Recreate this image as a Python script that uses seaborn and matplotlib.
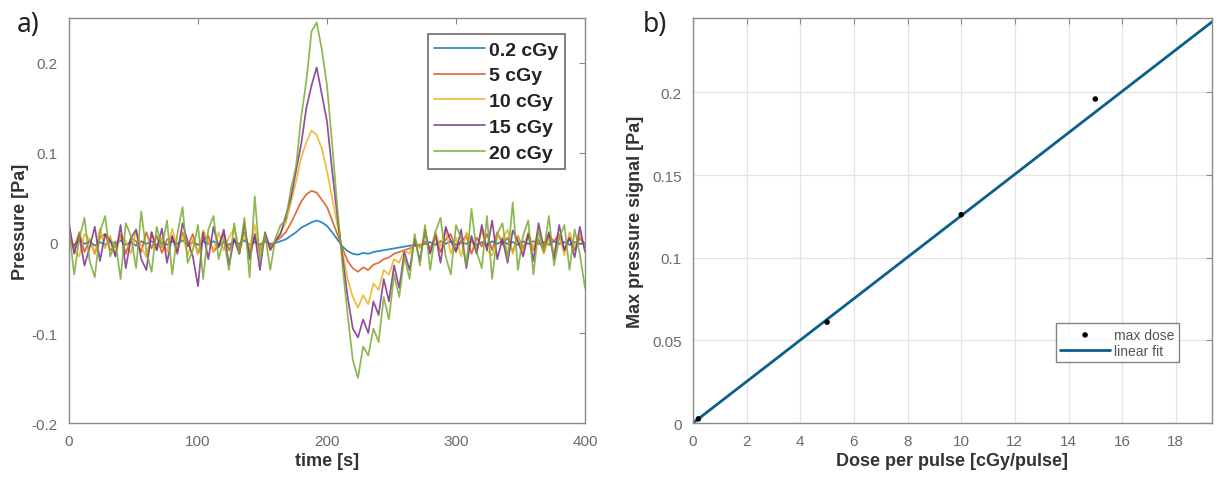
import numpy as np
import pandas as pd
import matplotlib
matplotlib.use("Agg")
import matplotlib.pyplot as plt
import seaborn as sns

# ---- panel a: pressure traces, one sample every 4 s from 0 to 400 s ----
dose_labels = ["0.2 cGy", "5 cGy", "10 cGy", "15 cGy", "20 cGy"]

p_02 = [0.002, -0.002, 0.003, -0.001, 0.002, -0.003, 0.001, -0.002, 0.002, -0.001,
        0.003, -0.002, 0.001, -0.003, 0.002, -0.001, 0.002, -0.002, 0.001, -0.002,
        0.002, -0.001, 0.003, -0.002, 0.001, -0.002, 0.002, -0.001, 0.002, -0.003,
        0.001, -0.002, 0.002, -0.001, 0.003, -0.002, 0.001, -0.002, 0.002, -0.001,
        0.000, 0.002, 0.004, 0.008, 0.012, 0.017, 0.020, 0.023, 0.025, 0.023,
        0.019, 0.012, 0.004, -0.004, -0.009, -0.012, -0.013, -0.011, -0.012, -0.010,
        -0.009, -0.008, -0.007, -0.006, -0.005, -0.004, -0.003, -0.002, -0.002, -0.001,
        0.001, -0.002, 0.002, -0.001, 0.002, -0.002, 0.001, -0.001, 0.002, -0.002,
        0.001, -0.002, 0.002, -0.001, 0.002, -0.001, 0.001, -0.002, 0.002, -0.001,
        0.002, -0.001, 0.001, -0.002, 0.002, -0.001, 0.001, -0.002, 0.001, -0.001, 0.000]

p_5 = [0.008, -0.006, 0.012, -0.010, 0.004, -0.012, 0.006, 0.010, -0.008, -0.004,
       0.009, -0.012, 0.006, 0.002, -0.010, 0.012, -0.006, 0.008, -0.011, 0.004,
       0.006, -0.008, 0.012, -0.004, 0.010, -0.012, 0.003, 0.008, -0.010, -0.002,
       0.010, -0.008, 0.004, -0.006, 0.012, -0.010, 0.006, -0.008, 0.008, -0.004,
       0.002, 0.006, 0.012, 0.022, 0.034, 0.046, 0.054, 0.058, 0.056, 0.048,
       0.040, 0.025, 0.010, -0.006, -0.020, -0.028, -0.032, -0.027, -0.030, -0.024,
       -0.022, -0.018, -0.016, -0.012, -0.010, -0.008, -0.006, -0.003, -0.004, 0.002,
       -0.006, 0.008, -0.010, 0.004, 0.010, -0.008, 0.002, 0.008, -0.012, 0.006,
       -0.004, 0.010, -0.008, 0.012, -0.002, 0.006, -0.010, 0.008, -0.006, 0.010,
       -0.008, 0.004, -0.010, 0.008, 0.002, 0.010, -0.008, 0.006, -0.008, 0.006, -0.004]

p_10 = [0.012, -0.008, -0.015, 0.010, 0.004, -0.012, 0.016, -0.006, 0.008, -0.014,
        0.010, 0.002, -0.012, 0.014, -0.004, -0.016, 0.012, -0.008, 0.006, -0.010,
        0.016, -0.006, 0.010, -0.014, 0.004, -0.012, 0.014, 0.002, -0.010, 0.012,
        -0.008, 0.006, 0.016, -0.012, 0.010, -0.006, 0.020, -0.012, 0.008, -0.006,
        0.003, 0.012, 0.022, 0.045, 0.068, 0.095, 0.112, 0.125, 0.120, 0.105,
        0.080, 0.050, 0.020, -0.010, -0.040, -0.060, -0.072, -0.058, -0.068, -0.045,
        -0.052, -0.030, -0.035, -0.018, -0.022, -0.008, -0.012, 0.004, -0.006, 0.008,
        -0.010, 0.012, -0.004, 0.015, -0.012, 0.006, -0.015, 0.012, 0.002, -0.010,
        0.014, -0.008, -0.014, 0.010, 0.004, 0.015, -0.012, 0.008, -0.010, 0.012,
        -0.006, 0.015, -0.012, 0.004, -0.010, 0.010, -0.014, 0.012, -0.004, 0.010, -0.005]

p_15 = [0.022, -0.012, 0.008, -0.025, -0.005, 0.018, -0.020, 0.010, 0.003, -0.015,
        0.020, -0.028, 0.005, 0.015, -0.018, -0.030, 0.012, -0.008, 0.016, -0.022,
        0.008, -0.012, 0.022, 0.002, -0.015, -0.048, 0.012, -0.018, 0.018, -0.005,
        0.015, -0.025, 0.005, -0.012, 0.022, -0.018, 0.010, -0.030, 0.012, -0.008,
        0.002, 0.010, 0.030, 0.050, 0.080, 0.110, 0.150, 0.175, 0.195, 0.165,
        0.135, 0.080, 0.030, -0.015, -0.060, -0.095, -0.105, -0.085, -0.100, -0.065,
        -0.080, -0.040, -0.065, -0.025, -0.050, -0.010, -0.030, 0.005, -0.020, 0.015,
        -0.012, 0.010, -0.022, 0.018, 0.002, -0.010, 0.015, -0.028, 0.008, -0.012,
        0.020, -0.008, 0.025, -0.018, 0.005, -0.022, 0.014, 0.002, -0.015, 0.010,
        -0.020, 0.022, -0.005, 0.012, -0.018, 0.020, -0.008, 0.006, -0.016, 0.018, -0.010]

p_20 = [0.015, -0.035, 0.005, 0.028, -0.020, -0.038, 0.012, 0.030, -0.015, 0.002,
        -0.040, 0.022, 0.008, -0.028, 0.035, -0.010, -0.032, 0.018, -0.005, 0.025,
        -0.035, 0.010, 0.040, -0.022, -0.008, 0.020, -0.040, 0.015, 0.030, -0.018,
        0.005, -0.030, 0.022, -0.012, 0.028, -0.038, 0.052, -0.020, 0.010, -0.030,
        0.005, 0.020, 0.025, 0.060, 0.085, 0.140, 0.180, 0.235, 0.245, 0.215,
        0.175, 0.110, 0.040, -0.025, -0.080, -0.130, -0.150, -0.115, -0.125, -0.095,
        -0.110, -0.060, -0.085, -0.035, -0.060, -0.015, -0.040, 0.010, -0.025, 0.020,
        -0.030, 0.012, 0.028, -0.015, -0.035, 0.020, 0.005, -0.025, 0.038, -0.010,
        -0.028, 0.030, -0.040, 0.010, 0.022, -0.018, 0.045, -0.030, 0.008, 0.025,
        -0.035, 0.015, -0.010, 0.030, -0.025, 0.005, 0.020, -0.030, 0.015, -0.012, -0.050]

traces = [p_02, p_5, p_10, p_15, p_20]

# ---- panel b: peak pressure versus dose per pulse ----
dose_per_pulse = [0.2, 5, 10, 15, 20]
max_pressure = [0.0025, 0.061, 0.126, 0.196, 0.245]

# MATLAB default line colours
trace_colors = ["#0072BD", "#D95319", "#EDB120", "#7E2F8E", "#77AC30"]

rows = []
for label, vals in zip(dose_labels, traces):
    t = np.linspace(0, 400, len(vals))
    rows.append(pd.DataFrame({"time": t, "pressure": vals, "dose": label}))
df_a = pd.concat(rows, ignore_index=True)

df_b = pd.DataFrame({"dose": dose_per_pulse, "pmax": max_pressure})
x_arr = np.array(dose_per_pulse)
y_arr = np.array(max_pressure)
slope = np.sum(x_arr * y_arr) / np.sum(x_arr ** 2)  # least squares through the origin
fit_x = np.array([0.0, 20.0])
df_fit = pd.DataFrame({"dose": fit_x, "pmax": slope * fit_x})

sns.set_style("white")
plt.rcParams["font.family"] = ["Liberation Sans", "DejaVu Sans"]

W, H = 1217, 481
fig = plt.figure(figsize=(W / 100, H / 100), dpi=100)
ax1 = fig.add_axes([69 / W, 1 - 424 / H, 516 / W, 405 / H])
ax2 = fig.add_axes([693 / W, 1 - 424 / H, 519 / W, 405 / H])

tick_col = "#6a6a6a"
spine_col = "#8a8a8a"
label_col = "#333333"

# panel a
sns.lineplot(data=df_a, x="time", y="pressure", hue="dose", hue_order=dose_labels,
             palette=trace_colors, linewidth=1.25, alpha=0.85, ax=ax1, legend=True)
ax1.set_xlim(0, 400)
ax1.set_ylim(-0.2, 0.25)
ax1.set_xticks([0, 100, 200, 300, 400])
ax1.set_yticks([-0.2, -0.1, 0, 0.1, 0.2])
ax1.set_yticklabels(["-0.2", "-0.1", "0", "0.1", "0.2"])
ax1.set_xlabel("time [s]", fontsize=13, fontweight="bold", color=label_col, labelpad=3)
ax1.set_ylabel("Pressure [Pa]", fontsize=13, fontweight="bold", color=label_col, labelpad=2)
leg1 = ax1.legend(loc="upper right", bbox_to_anchor=(0.961, 0.96), borderaxespad=0,
                  prop={"weight": "bold", "size": 14}, handlelength=2.6,
                  handletextpad=0.2, labelspacing=0.42, borderpad=0.35,
                  frameon=True, fancybox=False, edgecolor="#555555")
leg1.get_frame().set_linewidth(1.3)
for txt in leg1.get_texts():
    txt.set_color("#222222")

# panel b
sns.lineplot(data=df_fit, x="dose", y="pmax", color="#0b5f8a", linewidth=2.0,
             ax=ax2, label="linear fit", zorder=2)
sns.scatterplot(data=df_b, x="dose", y="pmax", color="black", s=16,
                edgecolor="none", ax=ax2, label="max dose", zorder=3)
ax2.set_xlim(0, 19.35)
ax2.set_ylim(0, 0.245)
ax2.set_xticks(np.arange(0, 19, 2))
ax2.set_yticks([0, 0.05, 0.1, 0.15, 0.2])
ax2.set_yticklabels(["0", "0.05", "0.1", "0.15", "0.2"])
ax2.grid(True, color="#e4e4e4", linewidth=0.9)
ax2.set_axisbelow(True)
ax2.set_xlabel("Dose per pulse [cGy/pulse]", fontsize=13, fontweight="bold",
               color=label_col, labelpad=3)
ax2.set_ylabel("Max pressure signal [Pa]", fontsize=13, fontweight="bold",
               color=label_col, labelpad=6)
handles, labels = ax2.get_legend_handles_labels()
order = [labels.index("max dose"), labels.index("linear fit")]
leg2 = ax2.legend([handles[i] for i in order], [labels[i] for i in order],
                  loc="lower right", bbox_to_anchor=(0.936, 0.151), borderaxespad=0,
                  prop={"size": 10}, handlelength=3.6, handletextpad=0.3,
                  labelspacing=0.15, borderpad=0.3, frameon=True, fancybox=False,
                  edgecolor="#666666")
leg2.get_frame().set_linewidth(1.0)
for txt in leg2.get_texts():
    txt.set_color("#555555")

for ax in (ax1, ax2):
    ax.tick_params(direction="in", length=4, width=0.8, colors=spine_col,
                   labelcolor=tick_col, labelsize=11, pad=8, top=True, right=True)
    for sp in ax.spines.values():
        sp.set_visible(True)
        sp.set_color(spine_col)
        sp.set_linewidth(1.0)

fig.text(17 / W, 1 - 25 / H, "a)", fontsize=19, family="Noto Sans", va="center", color="#222222")
fig.text(643 / W, 1 - 25 / H, "b)", fontsize=19, family="Noto Sans", va="center", color="#222222")

fig.savefig("out.png", dpi=100, facecolor="white")
